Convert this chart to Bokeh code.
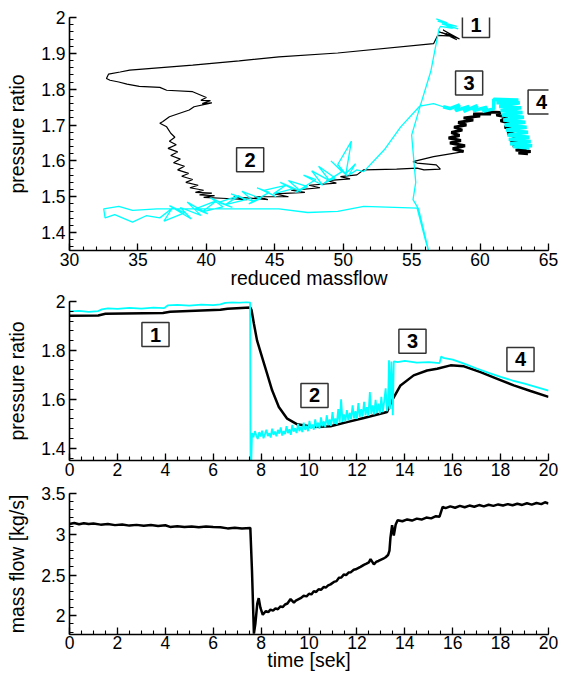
from bokeh.plotting import figure
from bokeh.layouts import column
from bokeh.models import Range1d, SingleIntervalTicker, Label
from bokeh.embed import file_html
from bokeh.resources import INLINE

FONT = "Liberation Sans"
CYAN = "#00FFFF"
BLACK = "#000000"

# ---------------- top panel: pressure ratio vs reduced massflow ----------------
# black trajectory (thin part)
top_black_x = [57.0, 58.2, 57.3, 58.5, 57.5, 58.3, 57.2, 58.0, 56.9, 56.6,
               49.6, 45.3, 42.4, 39.0, 34.4, 33.7, 32.85, 32.7, 32.96, 33.6, 34.2, 35.1, 36.6, 37.1,
               39.0, 40.0, 39.6, 40.3, 39.7, 40.4, 39.1, 38.75, 37.3, 36.8, 36.6, 37.1, 37.4, 37.7,
               37.3, 37.8, 37.2, 37.9, 37.4, 38.1, 37.6, 38.4, 37.9, 38.7, 38.2, 39.0, 38.5, 39.4,
               38.8, 39.8, 39.2, 40.4, 39.5, 40.6, 39.8,
               41.5, 43.0, 42.0, 44.5, 43.5, 46.0, 45.0, 47.2, 46.2, 48.3, 47.5, 49.5, 48.8, 50.5,
               49.8, 51.0, 51.5, 53.9, 55.4, 55.9, 57.1, 56.8, 55.4, 55.1, 56.6, 58.8]
top_black_y = [1.960, 1.945, 1.965, 1.940, 1.955, 1.938, 1.958, 1.948, 1.950, 1.927,
               1.901, 1.890, 1.879, 1.867, 1.853, 1.848, 1.842, 1.830, 1.825, 1.820, 1.814, 1.808, 1.805, 1.797,
               1.793, 1.777, 1.769, 1.768, 1.760, 1.762, 1.751, 1.742, 1.723, 1.709, 1.705, 1.695, 1.677, 1.666,
               1.655, 1.645, 1.635, 1.625, 1.615, 1.605, 1.595, 1.585, 1.575, 1.565, 1.557, 1.548, 1.540, 1.532,
               1.525, 1.518, 1.512, 1.510, 1.505, 1.503, 1.498,
               1.495, 1.492, 1.500, 1.492, 1.500, 1.500, 1.508, 1.512, 1.518, 1.525, 1.532, 1.538, 1.545, 1.550,
               1.556, 1.561, 1.575, 1.577, 1.580, 1.575, 1.577, 1.589, 1.594, 1.598, 1.612, 1.626]
# black trajectory (noisy band, phases 3 and 4)
top_black_band_x = [58.8, 58.0, 58.9, 57.8, 58.6, 57.7, 58.5, 57.9, 58.7, 58.1, 59.0, 58.4, 59.5, 58.8,
                    60.0, 59.5, 60.8, 60.3, 61.5, 61.2, 62.0, 61.5, 62.3, 61.8, 62.6, 62.0, 62.8, 62.2,
                    63.0, 62.4, 63.4, 62.6, 63.7, 62.8, 63.5]
top_black_band_y = [1.626, 1.634, 1.642, 1.650, 1.657, 1.664, 1.671, 1.679, 1.686, 1.694, 1.700, 1.707,
                    1.714, 1.720, 1.725, 1.731, 1.731, 1.737, 1.735, 1.728, 1.722, 1.712, 1.704, 1.694,
                    1.686, 1.676, 1.668, 1.658, 1.650, 1.642, 1.636, 1.630, 1.626, 1.622, 1.620]

# cyan trajectory (thin part)
top_cyan_x = [56.8, 57.6, 56.9, 58.3, 57.2, 58.4, 57.5, 58.0, 57.1, 57.0,
              56.4, 55.6, 55.0, 55.3, 55.1, 55.5, 56.3, 56.0, 55.4,
              51.5, 49.6, 47.4, 45.3, 40.0, 36.4, 34.6, 33.6, 32.5, 32.6, 33.3, 34.6, 35.6,
              36.6, 37.5, 36.9, 38.4, 37.3, 38.9, 38.1, 39.6, 38.6, 40.1, 39.2, 40.8, 39.7, 41.2,
              40.3, 41.9, 40.9, 42.4, 41.4, 42.9, 41.8, 43.5, 42.6, 44.0, 43.1, 44.6, 43.7, 45.1,
              44.2, 45.8, 44.9, 46.3, 45.4, 46.9, 46.0, 47.4, 46.5, 48.0, 47.1, 48.5, 47.7, 49.0,
              48.2, 49.4, 48.6, 49.9, 49.1, 50.3, 49.6, 50.6, 50.2, 50.9, 50.4, 51.0,
              51.5, 53.0, 54.2, 55.6, 56.6, 57.3]
top_cyan_y = [1.996, 1.985, 1.990, 1.975, 1.982, 1.968, 1.978, 1.970, 1.975, 1.968,
              1.850, 1.750, 1.672, 1.540, 1.492, 1.466, 1.340, 1.380, 1.468,
              1.473, 1.459, 1.456, 1.466, 1.466, 1.466, 1.462, 1.473, 1.466, 1.441, 1.450, 1.429, 1.447,
              1.441, 1.468, 1.432, 1.455, 1.475, 1.438, 1.470, 1.448, 1.485, 1.452, 1.466, 1.490, 1.458,
              1.472, 1.497, 1.470, 1.484, 1.503, 1.478, 1.492, 1.508, 1.486, 1.515, 1.495, 1.480, 1.512,
              1.525, 1.500, 1.518, 1.532, 1.508, 1.522, 1.540, 1.515, 1.545, 1.528, 1.512, 1.548, 1.560,
              1.532, 1.572, 1.545, 1.585, 1.552, 1.538, 1.570, 1.600, 1.558, 1.590, 1.655, 1.565, 1.592,
              1.560, 1.575, 1.570, 1.631, 1.695, 1.753, 1.760, 1.751]
# cyan trajectory (noisy band, phases 3 and 4)
top_cyan_band_x = [57.3, 57.8, 58.5, 58.2, 59.2, 58.8, 59.8, 59.5, 60.5, 60.2, 61.0,
                   61.0, 62.8, 61.2, 62.9, 61.4, 63.0, 61.5, 63.1, 61.6, 63.2, 61.7, 63.3, 61.8, 63.4,
                   61.9, 63.5, 62.0, 63.6, 62.1, 63.7, 62.2, 63.8, 62.4, 63.6]
top_cyan_band_y = [1.751, 1.746, 1.756, 1.740, 1.752, 1.738, 1.754, 1.740, 1.750, 1.738, 1.745,
                   1.772, 1.770, 1.762, 1.762, 1.752, 1.748, 1.740, 1.735, 1.728, 1.722, 1.714, 1.708,
                   1.700, 1.694, 1.686, 1.680, 1.672, 1.666, 1.660, 1.654, 1.648, 1.642, 1.640, 1.636]

top_box_text = ["1", "2", "3", "4"]
top_box_x = [59.7, 43.2, 59.2, 64.5]
top_box_y = [1.978, 1.603, 1.817, 1.764]

# ---------------- middle panel: pressure ratio vs time ----------------
mid_black_t = [0.0, 1.2, 1.5, 3.9, 4.2, 6.3, 6.6, 7.55, 7.6, 7.7, 7.83, 8.04, 8.25, 8.46, 8.74, 9.09,
               9.51, 10.2, 10.9, 11.59, 12.29, 12.98, 13.26, 13.47, 13.82, 14.37, 14.93, 15.35, 15.91,
               16.47, 17.16, 17.86, 18.55, 19.25, 20.0]
mid_black_p = [1.942, 1.943, 1.950, 1.953, 1.958, 1.966, 1.970, 1.975, 1.965, 1.909, 1.841, 1.773, 1.705,
               1.637, 1.569, 1.521, 1.498, 1.487, 1.490, 1.507, 1.524, 1.541, 1.548, 1.596, 1.657, 1.698,
               1.718, 1.725, 1.739, 1.735, 1.711, 1.684, 1.657, 1.634, 1.610]

mid_cyan_t = [0.0, 0.4, 0.8, 1.2, 1.35, 1.6, 2.0, 2.5, 3.0, 3.5, 3.95, 4.1, 4.5, 5.0, 5.5, 6.0, 6.3, 6.5,
              6.8, 7.1, 7.4, 7.54, 7.56, 7.58,
              7.62, 7.68, 7.74, 7.80, 7.86, 7.92, 7.98, 8.04, 8.10, 8.16, 8.22, 8.28, 8.34, 8.40, 8.46,
              8.52, 8.58, 8.64, 8.70, 8.76, 8.82, 8.88, 8.94, 9.00, 9.06, 9.12, 9.18, 9.24, 9.30, 9.36,
              9.42, 9.48, 9.54, 9.60, 9.66, 9.72, 9.78, 9.84, 9.90, 9.96, 10.02, 10.08, 10.14, 10.20,
              10.26, 10.32, 10.38, 10.44, 10.50, 10.56, 10.62, 10.68, 10.74, 10.80, 10.86, 10.92, 10.98,
              11.04, 11.10, 11.16, 11.22, 11.28, 11.34, 11.40, 11.46, 11.52, 11.58, 11.64, 11.70, 11.76,
              11.82, 11.88, 11.94, 12.00, 12.06, 12.12, 12.18, 12.24, 12.30, 12.36, 12.42, 12.48, 12.54,
              12.60, 12.66, 12.72, 12.78, 12.84, 12.90, 12.96, 13.02, 13.08, 13.14, 13.20, 13.26,
              13.30, 13.34, 13.38, 13.44, 13.50, 13.54, 13.7, 14.0, 14.5, 15.0, 15.45,
              15.52, 15.6, 16.0, 16.5, 17.0, 17.5, 18.0, 18.5, 19.0, 19.5, 20.0]
mid_cyan_p = [1.960, 1.962, 1.958, 1.961, 1.968, 1.972, 1.970, 1.974, 1.971, 1.975, 1.973, 1.984, 1.986,
              1.983, 1.987, 1.985, 1.988, 1.994, 1.997, 1.995, 1.998, 1.996, 1.300, 1.300,
              1.462, 1.445, 1.470, 1.452, 1.438, 1.466, 1.448, 1.472, 1.441, 1.458, 1.476, 1.450, 1.462,
              1.444, 1.480, 1.455, 1.468, 1.449, 1.475, 1.460, 1.485, 1.452, 1.470, 1.458, 1.490, 1.462,
              1.478, 1.455, 1.495, 1.468, 1.482, 1.462, 1.500, 1.470, 1.488, 1.466, 1.505, 1.475, 1.492,
              1.470, 1.512, 1.480, 1.497, 1.476, 1.518, 1.485, 1.505, 1.480, 1.526, 1.490, 1.510, 1.486,
              1.535, 1.495, 1.518, 1.492, 1.548, 1.500, 1.522, 1.498, 1.560, 1.505, 1.600, 1.508, 1.538,
              1.510, 1.556, 1.515, 1.545, 1.518, 1.575, 1.522, 1.552, 1.520, 1.585, 1.528, 1.560, 1.530,
              1.590, 1.535, 1.568, 1.532, 1.630, 1.540, 1.575, 1.538, 1.598, 1.545, 1.582, 1.542, 1.610,
              1.548, 1.592, 1.645, 1.552,
              1.575, 1.760, 1.560, 1.755, 1.535, 1.755, 1.752, 1.757, 1.750, 1.752, 1.748,
              1.775, 1.770, 1.762, 1.745, 1.726, 1.708, 1.692, 1.677, 1.664, 1.650, 1.636]

mid_box_text = ["1", "2", "3", "4"]
mid_box_t = [3.59, 10.23, 14.32, 18.83]
mid_box_p = [1.865, 1.616, 1.837, 1.763]

# ---------------- bottom panel: mass flow vs time ----------------
flow_t = [0.0, 0.2, 0.4, 0.6, 0.8, 1.0, 1.3, 1.6, 1.9, 2.2, 2.5, 2.8, 3.1, 3.4, 3.7, 4.0, 4.2, 4.5,
          4.8, 5.1, 5.4, 5.7, 6.0, 6.3, 6.6, 6.9, 7.2, 7.55, 7.62, 7.70, 7.76, 7.84, 7.90, 7.97, 8.07,
          8.2, 8.3, 8.39, 8.5, 8.6, 8.7, 8.81, 8.9, 9.0, 9.1, 9.23, 9.37, 9.45, 9.55, 9.65, 9.78, 9.9,
          10.0, 10.1, 10.2, 10.3, 10.4, 10.5, 10.62, 10.7, 10.8, 10.9, 11.04, 11.15, 11.25, 11.35,
          11.45, 11.55, 11.65, 11.75, 11.87, 11.95, 12.05, 12.15, 12.29, 12.4, 12.5, 12.57, 12.71,
          12.8, 12.9, 12.99, 13.1, 13.2, 13.3, 13.36, 13.40, 13.47, 13.54, 13.62, 13.70, 13.9, 14.1,
          14.3, 14.5, 14.7, 14.9, 15.1, 15.3, 15.45, 15.52, 15.58, 15.7, 15.9, 16.1, 16.3, 16.5, 16.7,
          16.9, 17.1, 17.3, 17.5, 17.7, 17.9, 18.1, 18.3, 18.5, 18.7, 18.9, 19.1, 19.3, 19.5, 19.7,
          19.85, 20.0]
flow_kg = [3.125, 3.138, 3.122, 3.135, 3.125, 3.132, 3.118, 3.126, 3.112, 3.120, 3.106, 3.115, 3.104,
           3.113, 3.102, 3.110, 3.090, 3.098, 3.088, 3.096, 3.086, 3.095, 3.088, 3.086, 3.072, 3.080,
           3.071, 3.078, 2.550, 1.780, 1.900, 2.150, 2.216, 2.100, 2.012, 2.058, 2.045, 2.075, 2.062,
           2.090, 2.080, 2.115, 2.105, 2.138, 2.150, 2.205, 2.162, 2.185, 2.200, 2.215, 2.245, 2.238,
           2.270, 2.262, 2.300, 2.292, 2.325, 2.318, 2.355, 2.345, 2.372, 2.385, 2.415, 2.425, 2.465,
           2.470, 2.505, 2.500, 2.530, 2.535, 2.565, 2.570, 2.585, 2.600, 2.625, 2.640, 2.655, 2.695,
           2.630, 2.660, 2.672, 2.685, 2.700, 2.718, 2.745, 2.800, 2.955, 3.110, 2.985, 3.120, 3.172,
           3.160, 3.182, 3.168, 3.192, 3.180, 3.205, 3.195, 3.222, 3.215, 3.280, 3.335, 3.320, 3.342,
           3.325, 3.348, 3.332, 3.352, 3.338, 3.358, 3.342, 3.362, 3.348, 3.366, 3.352, 3.370, 3.356,
           3.374, 3.360, 3.380, 3.364, 3.384, 3.370, 3.392, 3.378]


def style(p, xint, xminor, yint, yminor, xlabel, ylabel, yover):
    p.outline_line_color = None
    p.xgrid.visible = False
    p.ygrid.visible = False
    p.xaxis.ticker = SingleIntervalTicker(interval=xint, num_minor_ticks=xminor)
    p.yaxis.ticker = SingleIntervalTicker(interval=yint, num_minor_ticks=yminor)
    p.yaxis.major_label_overrides = yover
    p.xaxis.axis_label = xlabel
    p.yaxis.axis_label = ylabel
    for ax in (p.xaxis[0], p.yaxis[0]):
        ax.axis_line_color = "black"
        ax.axis_line_width = 1.6
        ax.major_tick_in = 7
        ax.major_tick_out = 0
        ax.minor_tick_in = 4
        ax.minor_tick_out = 0
        ax.major_tick_line_width = 1.3
        ax.minor_tick_line_width = 1.1
        ax.major_tick_line_color = "black"
        ax.minor_tick_line_color = "black"
        ax.major_label_text_font = FONT
        ax.major_label_text_font_size = "17.5px"
        ax.major_label_text_color = "black"
        ax.axis_label_text_font = FONT
        ax.axis_label_text_font_size = "19.5px"
        ax.axis_label_text_font_style = "normal"
        ax.axis_label_text_color = "black"
        ax.major_label_standoff = 2
    p.yaxis.major_label_standoff = 4
    p.yaxis.axis_label_standoff = 10


def boxes(p, xs, ys, texts):
    for x, y, t in zip(xs, ys, texts):
        p.add_layout(Label(x=x, y=y, text=t, text_align="center", text_baseline="middle",
                           text_font=FONT, text_font_size="20px", text_font_style="bold",
                           text_color="black", background_fill_color="white",
                           border_line_color="#333333", border_line_width=1.5,
                           padding=dict(left=8, right=8, top=5, bottom=5)))


# top figure: frame x 69..553, y 17..250
p1 = figure(width=561, height=293, output_backend="svg", toolbar_location=None,
            x_range=Range1d(30, 65), y_range=Range1d(1.35, 2.0),
            min_border_left=69, min_border_right=8, min_border_top=17, min_border_bottom=43)
style(p1, 5, 5, 0.1, 5, "reduced massflow", "pressure ratio", {2: "2"})
p1.xaxis.axis_label_standoff = -2
p1.line(top_black_x, top_black_y, line_color=BLACK, line_width=1.2)
p1.line(top_black_band_x, top_black_band_y, line_color=BLACK, line_width=3)
p1.line(top_cyan_x, top_cyan_y, line_color=CYAN, line_width=1.3)
p1.line(top_cyan_band_x, top_cyan_band_y, line_color=CYAN, line_width=3.5)
boxes(p1, top_box_x, top_box_y, top_box_text)

# middle figure: frame x 69..548, y 301..460
p2 = figure(width=561, height=189, output_backend="svg", toolbar_location=None,
            x_range=Range1d(0, 20), y_range=Range1d(1.35, 2.0),
            min_border_left=69, min_border_right=13, min_border_top=8, min_border_bottom=22)
style(p2, 2, 4, 0.2, 5, None, "pressure ratio", {2: "2"})
p2.line(mid_black_t, mid_black_p, line_color=BLACK, line_width=2.5)
p2.line(mid_cyan_t, mid_cyan_p, line_color=CYAN, line_width=1.8)
boxes(p2, mid_box_t, mid_box_p, mid_box_text)

# bottom figure: frame x 69..548, y 493..634
p3 = figure(width=561, height=193, output_backend="svg", toolbar_location=None,
            x_range=Range1d(0, 20), y_range=Range1d(1.77, 3.5),
            min_border_left=69, min_border_right=13, min_border_top=11, min_border_bottom=41)
style(p3, 2, 4, 0.5, 5, "time [sek]", "mass flow [kg/s]", {2: "2", 3: "3"})
p3.xaxis.major_label_standoff = 1
p3.xaxis.axis_label_standoff = -3
p3.line(flow_t, flow_kg, line_color=BLACK, line_width=2.5)

layout = column(p1, p2, p3, spacing=0)
open("out.html", "w").write(file_html(layout, INLINE))
